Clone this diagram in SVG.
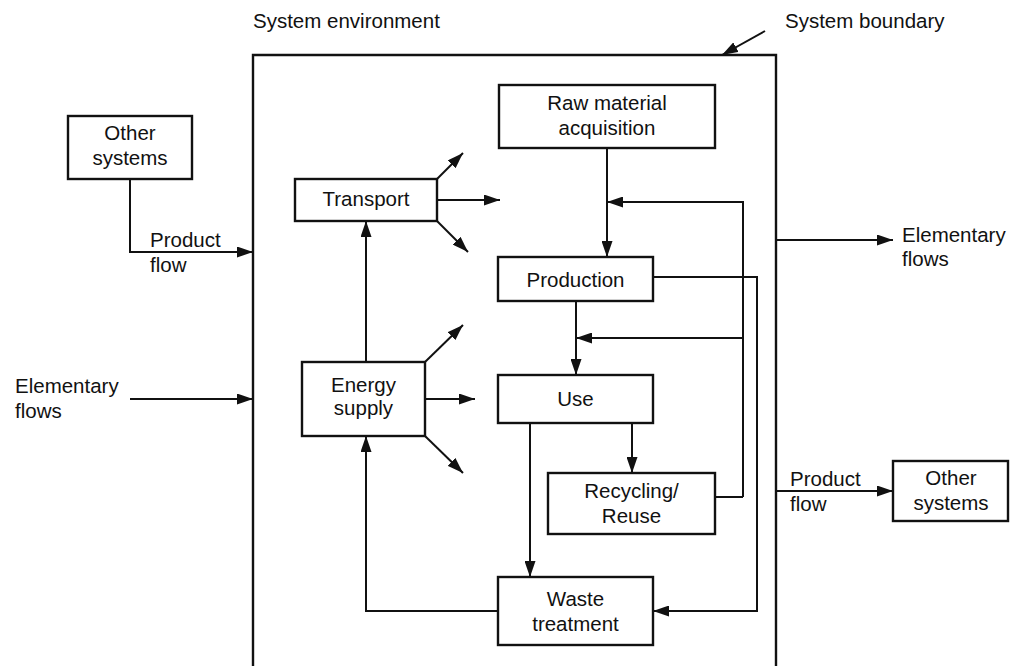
<svg xmlns="http://www.w3.org/2000/svg" width="1013" height="666" viewBox="0 0 1013 666">
<style>
text{font-family:"Liberation Sans",Arial,sans-serif;font-size:20.5px;fill:#111}
.c{text-anchor:middle}
.box{fill:#fff;stroke:#111;stroke-width:2.4}
.ln{fill:none;stroke:#111;stroke-width:2}
.ar{fill:none;stroke:#111;stroke-width:2;marker-end:url(#ah)}
</style>
<defs>
<marker id="ah" markerUnits="userSpaceOnUse" markerWidth="16" markerHeight="11" refX="16" refY="5.5" orient="auto">
<path d="M0,0 L16,5.5 L0,11 z" fill="#111"/>
</marker>
</defs>
<rect width="1013" height="666" fill="#fff"/>
<g id="boundary">
<path d="M253,666 V55 H776 V666" fill="none" stroke="#111" stroke-width="2.4"/>
<text x="253" y="28">System environment</text>
<text x="785" y="28">System boundary</text>
</g>
<g id="connectors">
<path class="ar" d="M765,31 L722,55"/>
<path class="ar" d="M130,179 V252 H253"/>
<path class="ar" d="M130,399 H253"/>
<path class="ar" d="M775,240 H893"/>
<path class="ar" d="M775,491 H893"/>
<path class="ar" d="M607,148 V257"/>
<path class="ar" d="M743,497 V202 H607"/>
<path class="ln" d="M715,497 H743"/>
<path class="ar" d="M743,338 H576"/>
<path class="ar" d="M576,301 V375"/>
<path class="ar" d="M653,277 H757 V611 H653"/>
<path class="ar" d="M632,423 V473"/>
<path class="ar" d="M530,423 V577"/>
<path class="ar" d="M498,611 H366 V436"/>
<path class="ar" d="M366,362 V221"/>
<path class="ar" d="M437,179 L463,153"/>
<path class="ar" d="M437,200 H500"/>
<path class="ar" d="M437,221 L468,252"/>
<path class="ar" d="M425,362 L463,325"/>
<path class="ar" d="M425,399 H475"/>
<path class="ar" d="M425,436 L463,473"/>
</g>
<g id="other-systems-left">
<rect class="box" x="68" y="116" width="124" height="63"/>
<text class="c" x="130" y="140">Other</text>
<text class="c" x="130" y="165">systems</text>
</g>
<g id="label-product-flow-left">
<text x="150" y="247">Product</text>
<text x="150" y="272">flow</text>
</g>
<g id="label-elementary-left">
<text x="15" y="393">Elementary</text>
<text x="15" y="418">flows</text>
</g>
<g id="label-elementary-right">
<text x="902" y="242">Elementary</text>
<text x="902" y="266">flows</text>
</g>
<g id="label-product-flow-right">
<text x="790" y="486">Product</text>
<text x="790" y="511">flow</text>
</g>
<g id="other-systems-right">
<rect class="box" x="893" y="461" width="115" height="60"/>
<text class="c" x="951" y="485">Other</text>
<text class="c" x="951" y="510">systems</text>
</g>
<g id="raw-material">
<rect class="box" x="499" y="85" width="216" height="63"/>
<text class="c" x="607" y="110">Raw material</text>
<text class="c" x="607" y="135">acquisition</text>
</g>
<g id="transport">
<rect class="box" x="295" y="179" width="142" height="42"/>
<text class="c" x="366" y="206">Transport</text>
</g>
<g id="production">
<rect class="box" x="498" y="257" width="155" height="44"/>
<text class="c" x="575.5" y="287">Production</text>
</g>
<g id="energy-supply">
<rect class="box" x="302" y="362" width="123" height="74"/>
<text class="c" x="363.5" y="392">Energy</text>
<text class="c" x="363.5" y="415">supply</text>
</g>
<g id="use">
<rect class="box" x="498" y="375" width="155" height="48"/>
<text class="c" x="575.5" y="406">Use</text>
</g>
<g id="recycling">
<rect class="box" x="548" y="473" width="167" height="61"/>
<text class="c" x="631.5" y="498">Recycling/</text>
<text class="c" x="631.5" y="523">Reuse</text>
</g>
<g id="waste-treatment">
<rect class="box" x="498" y="577" width="155" height="68"/>
<text class="c" x="575.5" y="606">Waste</text>
<text class="c" x="575.5" y="631">treatment</text>
</g>
</svg>
